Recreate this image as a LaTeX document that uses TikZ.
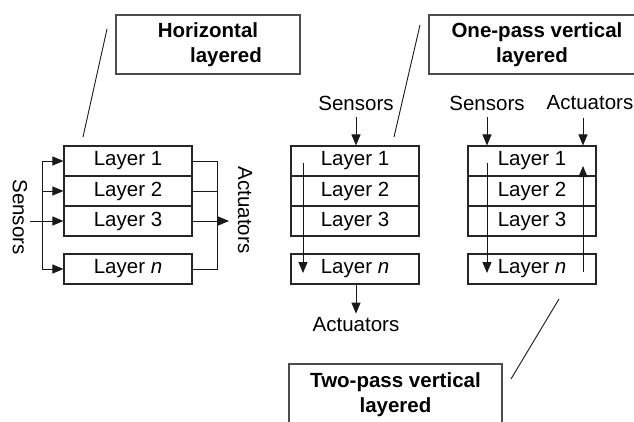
\documentclass[tikz,border=0pt]{standalone}
\usepackage{fontspec}
\setmainfont{Liberation Sans}
\usetikzlibrary{arrows.meta}
\tikzset{
  layer/.style={draw=black!85, line width=1.1pt, minimum width=128pt, minimum height=30pt, inner sep=0pt, font=\fontsize{20.5}{24}\selectfont},
  title/.style={draw=black!70, line width=1.1pt, font=\bfseries\fontsize{20.5}{25}\selectfont, align=center, inner sep=0pt},
  lbl/.style={font=\fontsize{20.5}{24}\selectfont, inner sep=0pt},
  conn/.style={line width=0.9pt, black!90},
  arr/.style={conn, -{Triangle[length=11pt,width=9pt]}},
}
\begin{document}
\begin{tikzpicture}[x=1pt,y=-1pt]
\clip (0,0) rectangle (634,421);
\fill[white] (0,0) rectangle (634,421);
% titles
\node[title, minimum width=184pt, minimum height=59pt] (th) at (208,44.5) {Horizontal\\\hspace*{36pt}layered};
\node[title, minimum width=216pt, minimum height=59pt] (to) at (537,44.5) {One-pass vertical\\\hspace*{-10pt}layered};
\node[title, minimum width=213pt, minimum height=62pt] (tt) at (395.5,395) {Two-pass vertical\\layered};
% horizontal layered
\node[layer] (h1) at (128,161) {Layer 1};
\node[layer] (h2) at (128,191) {Layer 2};
\node[layer] (h3) at (128,221) {Layer 3};
\node[layer] (hn) at (128,269) {Layer \textit{n}};
\coordinate (thp) at (107,29);
\coordinate (thq) at (83,137);
\draw[conn] (thp) -- (thq);
\node[lbl, rotate=-90] (hs) at (20,217) {Sensors};
\coordinate (hsp) at (42,0);
\coordinate (hin) at (30,221);
\draw[arr] (hin) -- (h3.west);
\draw[conn] (hsp |- h1.west) -- (hsp |- hn.west);
\foreach \n in {h1,h2,hn} \draw[arr] (hsp |- \n.west) -- (\n.west);
\coordinate (hop) at (217,0);
\draw[conn] (h1.east) -- (hop |- h1.east) -- (hop |- hn.east) -- (hn.east);
\draw[conn] (h2.east) -- (hop |- h2.east);
\coordinate (hout) at (229,221);
\draw[arr] (h3.east) -- (hout);
\node[lbl, rotate=-90] (ha) at (245,210) {Actuators};
% one-pass vertical
\node[layer] (v1) at (355,161) {Layer 1};
\node[layer] (v2) at (355,191) {Layer 2};
\node[layer] (v3) at (355,221) {Layer 3};
\node[layer] (vn) at (355,269) {Layer \textit{n}};
\node[lbl] (vs) at (356,103) {Sensors};
\draw[arr] ([yshift=-7pt]vs.south) -- (vs.south |- v1.north);
\coordinate (vd1) at (303,163);
\coordinate (vd2) at (303,273);
\draw[arr] (vd1) -- (vd2);
\node[lbl] (va) at (356,325) {Actuators};
\draw[arr] (va.north |- vn.south) -- ([yshift=4pt]va.north);
\coordinate (top) at (420,25);
\coordinate (toq) at (394,137);
\draw[conn] (top) -- (toq);
% two-pass vertical
\node[layer] (w1) at (532,161) {Layer 1};
\node[layer] (w2) at (532,191) {Layer 2};
\node[layer] (w3) at (532,221) {Layer 3};
\node[layer] (wn) at (532,269) {Layer \textit{n}};
\node[lbl] (ws) at (487,103) {Sensors};
\node[lbl] (wa) at (590,103) {Actuators};
\draw[arr] ([yshift=-7pt]ws.south) -- (ws.south |- w1.north);
\coordinate (wat) at (583,118);
\draw[arr] (wat) -- (wat |- w1.north);
\coordinate (wd1) at (487,163);
\coordinate (wd2) at (487,273);
\draw[arr] (wd1) -- (wd2);
\coordinate (wu1) at (583,272);
\coordinate (wu2) at (583,166);
\draw[arr] (wu1) -- (wu2);
\coordinate (ttp) at (559,299);
\coordinate (ttq) at (511,379);
\draw[conn] (ttp) -- (ttq);
\end{tikzpicture}
\end{document}
